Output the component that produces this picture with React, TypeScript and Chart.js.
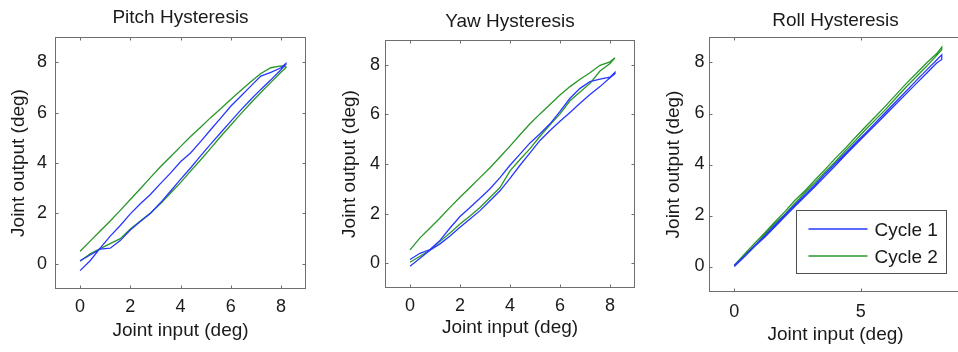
import React, { useEffect, useRef } from 'react';
import { Chart, registerables } from 'chart.js';

Chart.register(...registerables);

// ---------- data ----------
const inputDeg = [0, 0.4, 0.8, 1.2, 1.6, 2.0, 2.4, 2.8, 3.2, 3.6, 4.0, 4.4, 4.8, 5.2, 5.6, 6.0, 6.4, 6.8, 7.2, 7.6, 8.0, 8.2];

// Pitch
const pitchCycle1Load = [-0.27, 0.12, 0.62, 1.1, 1.52, 1.98, 2.38, 2.75, 3.18, 3.6, 4.05, 4.4, 4.85, 5.32, 5.78, 6.25, 6.65, 7.05, 7.45, 7.6, 7.78, 7.95];
const pitchCycle1Unload = [0.12, 0.35, 0.58, 0.62, 0.92, 1.34, 1.68, 2.0, 2.42, 2.88, 3.35, 3.8, 4.28, 4.75, 5.2, 5.65, 6.1, 6.52, 6.92, 7.3, 7.7, 7.92];
const pitchCycle2Load = [0.1, 0.4, 0.6, 0.8, 1.0, 1.38, 1.7, 2.02, 2.38, 2.8, 3.22, 3.68, 4.12, 4.58, 5.05, 5.5, 5.95, 6.38, 6.8, 7.2, 7.6, 7.78];
const pitchCycle2Unload = [0.5, 0.9, 1.3, 1.7, 2.12, 2.55, 2.98, 3.42, 3.85, 4.25, 4.65, 5.05, 5.42, 5.8, 6.15, 6.52, 6.88, 7.22, 7.55, 7.78, 7.85, 7.82];

// Yaw
const yawCycle1Load = [-0.12, 0.2, 0.52, 0.78, 1.1, 1.45, 1.78, 2.12, 2.52, 2.92, 3.42, 3.95, 4.45, 4.95, 5.35, 5.72, 6.08, 6.45, 6.8, 7.12, 7.48, 7.64];
const yawCycle1Unload = [0.15, 0.4, 0.55, 0.92, 1.42, 1.88, 2.25, 2.62, 3.0, 3.45, 3.95, 4.4, 4.85, 5.22, 5.62, 6.12, 6.65, 7.05, 7.32, 7.42, 7.5, 7.7];
const yawCycle2Load = [0.04, 0.28, 0.53, 0.88, 1.22, 1.58, 1.9, 2.25, 2.65, 3.05, 3.72, 4.18, 4.62, 5.12, 5.58, 6.02, 6.55, 6.9, 7.25, 7.75, 8.05, 8.28];
const yawCycle2Unload = [0.54, 1.02, 1.42, 1.82, 2.25, 2.66, 3.05, 3.45, 3.85, 4.28, 4.72, 5.18, 5.62, 6.02, 6.4, 6.78, 7.12, 7.42, 7.68, 7.98, 8.12, 8.28];

// Roll
const rollCycle1Load = [0.0, 0.38, 0.78, 1.15, 1.55, 1.96, 2.36, 2.75, 3.15, 3.56, 3.96, 4.38, 4.78, 5.18, 5.58, 5.98, 6.38, 6.78, 7.18, 7.58, 7.98, 8.12];
const rollCycle1Unload = [0.05, 0.4, 0.82, 1.2, 1.62, 2.02, 2.42, 2.82, 3.22, 3.65, 4.05, 4.45, 4.85, 5.25, 5.66, 6.07, 6.48, 6.88, 7.3, 7.7, 8.1, 8.3];
const rollCycle2Load = [0.02, 0.42, 0.8, 1.25, 1.68, 2.05, 2.48, 2.9, 3.3, 3.72, 4.12, 4.55, 4.95, 5.38, 5.78, 6.18, 6.62, 7.05, 7.45, 7.85, 8.28, 8.5];
const rollCycle2Unload = [0.05, 0.48, 0.9, 1.32, 1.75, 2.15, 2.6, 2.98, 3.4, 3.82, 4.25, 4.65, 5.08, 5.5, 5.9, 6.32, 6.75, 7.18, 7.58, 7.98, 8.35, 8.6];

const seriesNames = ['Cycle 1', 'Cycle 2'];
const panelTitles = ['Pitch Hysteresis', 'Yaw Hysteresis', 'Roll Hysteresis'];
const xAxisTitle = 'Joint input (deg)';
const yAxisTitle = 'Joint output (deg)';
const pitchXTicks = [0, 2, 4, 6, 8];
const yawXTicks = [0, 2, 4, 6, 8];
const rollXTicks = [0, 5];
const outputTicks = [0, 2, 4, 6, 8];
const axisMin = -1;
const axisMax = 9;

// ---------- styling ----------
const FONT = '"Liberation Sans", Arial, Helvetica, sans-serif';
const BLUE = 'rgb(40,55,255)';
const GREEN = 'rgb(40,150,40)';
const TEXT = '#1a1a1a';
const FRAME = '#6e6e6e';

function loop(load: number[], unload: number[]) {
  const up = load.map((y, i) => ({ x: inputDeg[i], y }));
  const down = unload.map((y, i) => ({ x: inputDeg[i], y })).reverse();
  return [...up, ...down];
}

function framePlugin(title: string, titleMid: number, showLegend: boolean) {
  return {
    id: 'frame',
    beforeDatasetsDraw(chart: any) {
      const { ctx, chartArea } = chart;
      const { left, right, top, bottom } = chartArea;
      const xs = chart.scales.x;
      const ys = chart.scales.y;
      ctx.save();
      ctx.strokeStyle = FRAME;
      ctx.lineWidth = 1;
      const L = Math.round(left) + 0.5;
      const R = Math.round(right) - 0.5;
      const T = Math.round(top) + 0.5;
      const B = Math.round(bottom) - 0.5;
      ctx.strokeRect(L, T, R - L, B - T);
      const tl = 3;
      ctx.beginPath();
      xs.ticks.forEach((t: any) => {
        const px = Math.round(xs.getPixelForValue(t.value)) + 0.5;
        ctx.moveTo(px, B);
        ctx.lineTo(px, B - tl);
        ctx.moveTo(px, T);
        ctx.lineTo(px, T + tl);
      });
      ys.ticks.forEach((t: any) => {
        const py = Math.round(ys.getPixelForValue(t.value)) + 0.5;
        ctx.moveTo(L, py);
        ctx.lineTo(L + tl, py);
        ctx.moveTo(R, py);
        ctx.lineTo(R - tl, py);
      });
      ctx.stroke();
      // panel title, centred over the plot box
      ctx.fillStyle = TEXT;
      ctx.font = `19px ${FONT}`;
      ctx.textAlign = 'center';
      ctx.textBaseline = 'middle';
      ctx.fillText(title, (left + right) / 2, titleMid);
      ctx.restore();
    },
    afterDraw(chart: any) {
      if (!showLegend) return;
      const { ctx, chartArea } = chart;
      const bx = Math.round(chartArea.left + 87) + 0.5;
      const by = Math.round(chartArea.top + 173) + 0.5;
      const bw = 150;
      const bh = 63;
      ctx.save();
      ctx.fillStyle = '#ffffff';
      ctx.fillRect(bx, by, bw, bh);
      ctx.strokeStyle = '#505050';
      ctx.lineWidth = 1;
      ctx.strokeRect(bx, by, bw, bh);
      const colors = [BLUE, GREEN];
      seriesNames.forEach((name, i) => {
        const ly = Math.round(by + 18 + i * 27);
        ctx.strokeStyle = colors[i];
        ctx.lineWidth = 1.4;
        ctx.beginPath();
        ctx.moveTo(bx + 12, ly);
        ctx.lineTo(bx + 71, ly);
        ctx.stroke();
        ctx.fillStyle = TEXT;
        ctx.font = `19px ${FONT}`;
        ctx.textBaseline = 'middle';
        ctx.textAlign = 'left';
        ctx.fillText(name, bx + 78, ly + 2);
      });
      ctx.restore();
    },
  };
}

type PanelProps = {
  left: number;
  width: number;
  title: string;
  c1: number[][];
  c2: number[][];
  xTicks: number[];
  yW: number;
  xH: number;
  padRight: number;
  plotTop: number;
  titleMid: number;
  xTitleBottom: number;
  yTitleTop: number;
  xTickPad: number;
  yTickPad: number;
  legend?: boolean;
};

function Panel(p: PanelProps) {
  const ref = useRef<HTMLCanvasElement | null>(null);
  useEffect(() => {
    if (!ref.current) return;
    const tickFont = { family: FONT, size: 18 };
    const titleFont = { family: FONT, size: 19, weight: 'normal' as const };
    const chart = new Chart(ref.current, {
      type: 'scatter',
      data: {
        datasets: [
          {
            label: seriesNames[0],
            data: loop(p.c1[0], p.c1[1]),
            showLine: true,
            borderColor: BLUE,
            backgroundColor: BLUE,
            borderWidth: 1.3,
            pointRadius: 0,
            tension: 0,
          },
          {
            label: seriesNames[1],
            data: loop(p.c2[0], p.c2[1]),
            showLine: true,
            borderColor: GREEN,
            backgroundColor: GREEN,
            borderWidth: 1.3,
            pointRadius: 0,
            tension: 0,
          },
        ],
      },
      options: {
        responsive: false,
        animation: false,
        layout: { padding: { left: 0, right: p.padRight, top: p.plotTop, bottom: 0 } },
        plugins: {
          legend: { display: false },
          tooltip: { enabled: false },
          title: { display: false },
        },
        scales: {
          x: {
            type: 'linear',
            min: axisMin,
            max: axisMax,
            afterBuildTicks: (s: any) => {
              s.ticks = p.xTicks.map((v) => ({ value: v }));
            },
            afterFit: (s: any) => {
              s.height = p.xH;
            },
            grid: { display: false, drawTicks: false },
            border: { display: false },
            ticks: { color: TEXT, font: tickFont, padding: p.xTickPad, maxRotation: 0, autoSkip: false },
            title: {
              display: true,
              text: xAxisTitle,
              color: TEXT,
              font: titleFont,
              padding: { top: 0, bottom: p.xTitleBottom },
            },
          },
          y: {
            type: 'linear',
            min: axisMin,
            max: axisMax,
            afterBuildTicks: (s: any) => {
              s.ticks = outputTicks.map((v) => ({ value: v }));
            },
            afterFit: (s: any) => {
              s.width = p.yW;
            },
            grid: { display: false, drawTicks: false },
            border: { display: false },
            ticks: { color: TEXT, font: tickFont, padding: p.yTickPad, autoSkip: false },
            title: {
              display: true,
              text: yAxisTitle,
              color: TEXT,
              font: titleFont,
              padding: { top: p.yTitleTop, bottom: 0 },
            },
          },
        },
      },
      plugins: [framePlugin(p.title, p.titleMid, !!p.legend)],
    } as any);
    return () => chart.destroy();
  }, []);
  return (
    <div style={{ position: 'absolute', left: p.left, top: 0, width: p.width, height: 352 }}>
      <canvas ref={ref} width={p.width} height={352} style={{ display: 'block' }} />
    </div>
  );
}

export default function App() {
  return (
    <div
      style={{
        position: 'fixed',
        left: 0,
        top: 0,
        width: 958,
        height: 352,
        overflow: 'hidden',
        background: '#ffffff',
      }}
    >
      <Panel
        left={0}
        width={320}
        title={panelTitles[0]}
        c1={[pitchCycle1Load, pitchCycle1Unload]}
        c2={[pitchCycle2Load, pitchCycle2Unload]}
        xTicks={pitchXTicks}
        yW={55}
        xH={63}
        padRight={14}
        plotTop={37}
        titleMid={18}
        xTitleBottom={10}
        yTitleTop={7}
        xTickPad={7}
        yTickPad={8}
      />
      <Panel
        left={320}
        width={320}
        title={panelTitles[1]}
        c1={[yawCycle1Load, yawCycle1Unload]}
        c2={[yawCycle2Load, yawCycle2Unload]}
        xTicks={yawXTicks}
        yW={65}
        xH={64}
        padRight={5}
        plotTop={40}
        titleMid={21.5}
        xTitleBottom={12.6}
        yTitleTop={18}
        xTickPad={7}
        yTickPad={5}
      />
      <Panel
        left={640}
        width={340}
        title={panelTitles[2]}
        c1={[rollCycle1Load, rollCycle1Unload]}
        c2={[rollCycle2Load, rollCycle2Unload]}
        xTicks={rollXTicks}
        yW={69}
        xH={60}
        padRight={18}
        plotTop={37}
        titleMid={20.5}
        xTitleBottom={6}
        yTitleTop={22.6}
        xTickPad={9}
        yTickPad={4.5}
        legend
      />
    </div>
  );
}
